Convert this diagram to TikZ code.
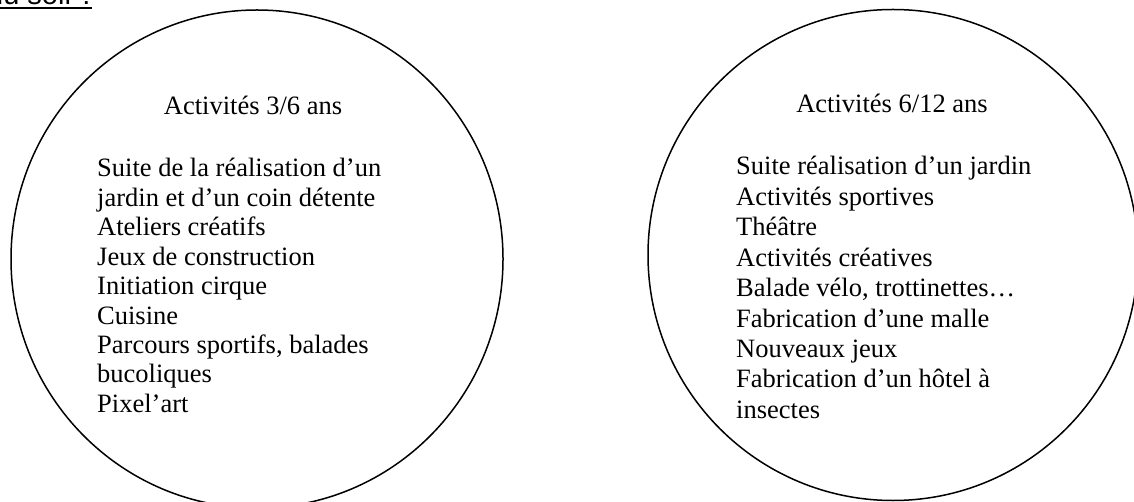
\documentclass[tikz,border=0pt]{standalone}
\usepackage{fontspec}
\setmainfont{Liberation Serif}
\newfontfamily\headsans{Liberation Sans}
\begin{document}
\begin{tikzpicture}[x=1pt,y=-1pt,
  bubble/.style={draw=black,line width=1.5pt},
  itemtext/.style={anchor=base west,inner sep=0pt,font=\fontsize{26.5}{30}\selectfont},
  titletext/.style={anchor=base,inner sep=0pt,font=\fontsize{26.5}{30}\selectfont},
  headtext/.style={anchor=base west,inner sep=0pt,font=\headsans\fontsize{29}{33}\selectfont}]
\useasboundingbox (0,0) rectangle (1134,502);
\clip (0,0) rectangle (1134,502);
% partial heading at the top left
\node[headtext] (head) at (-13,4.5) {du soir :};
\draw[line width=2pt] (head.base west) ++(0,4) coordinate (ulA) -- ++(105,0) coordinate (ulB);
% circles
\draw[bubble] (257,259) ellipse [x radius=246, y radius=249];
\draw[bubble] (893,255) ellipse [x radius=245, y radius=245.5];
% left circle text
\node[titletext] (lt) at (253,115) {Activités 3/6 ans};
\foreach \t [count=\i from 0] in {Suite de la réalisation d’un,jardin et d’un coin détente,Ateliers créatifs,Jeux de construction,Initiation cirque,Cuisine,{Parcours sportifs, balades},bucoliques,Pixel’art}
  \node[itemtext] (l\i) at (97,177+29.4*\i) {\t};
% right circle text
\node[titletext] (rt) at (892,113) {Activités 6/12 ans};
\foreach \t [count=\i from 0] in {Suite réalisation d’un jardin,Activités sportives,Théâtre,Activités créatives,{Balade vélo, trottinettes…},Fabrication d’une malle,Nouveaux jeux,Fabrication d’un hôtel à,insectes}
  \node[itemtext] (r\i) at (736,175+30.4*\i) {\t};
\end{tikzpicture}
\end{document}
